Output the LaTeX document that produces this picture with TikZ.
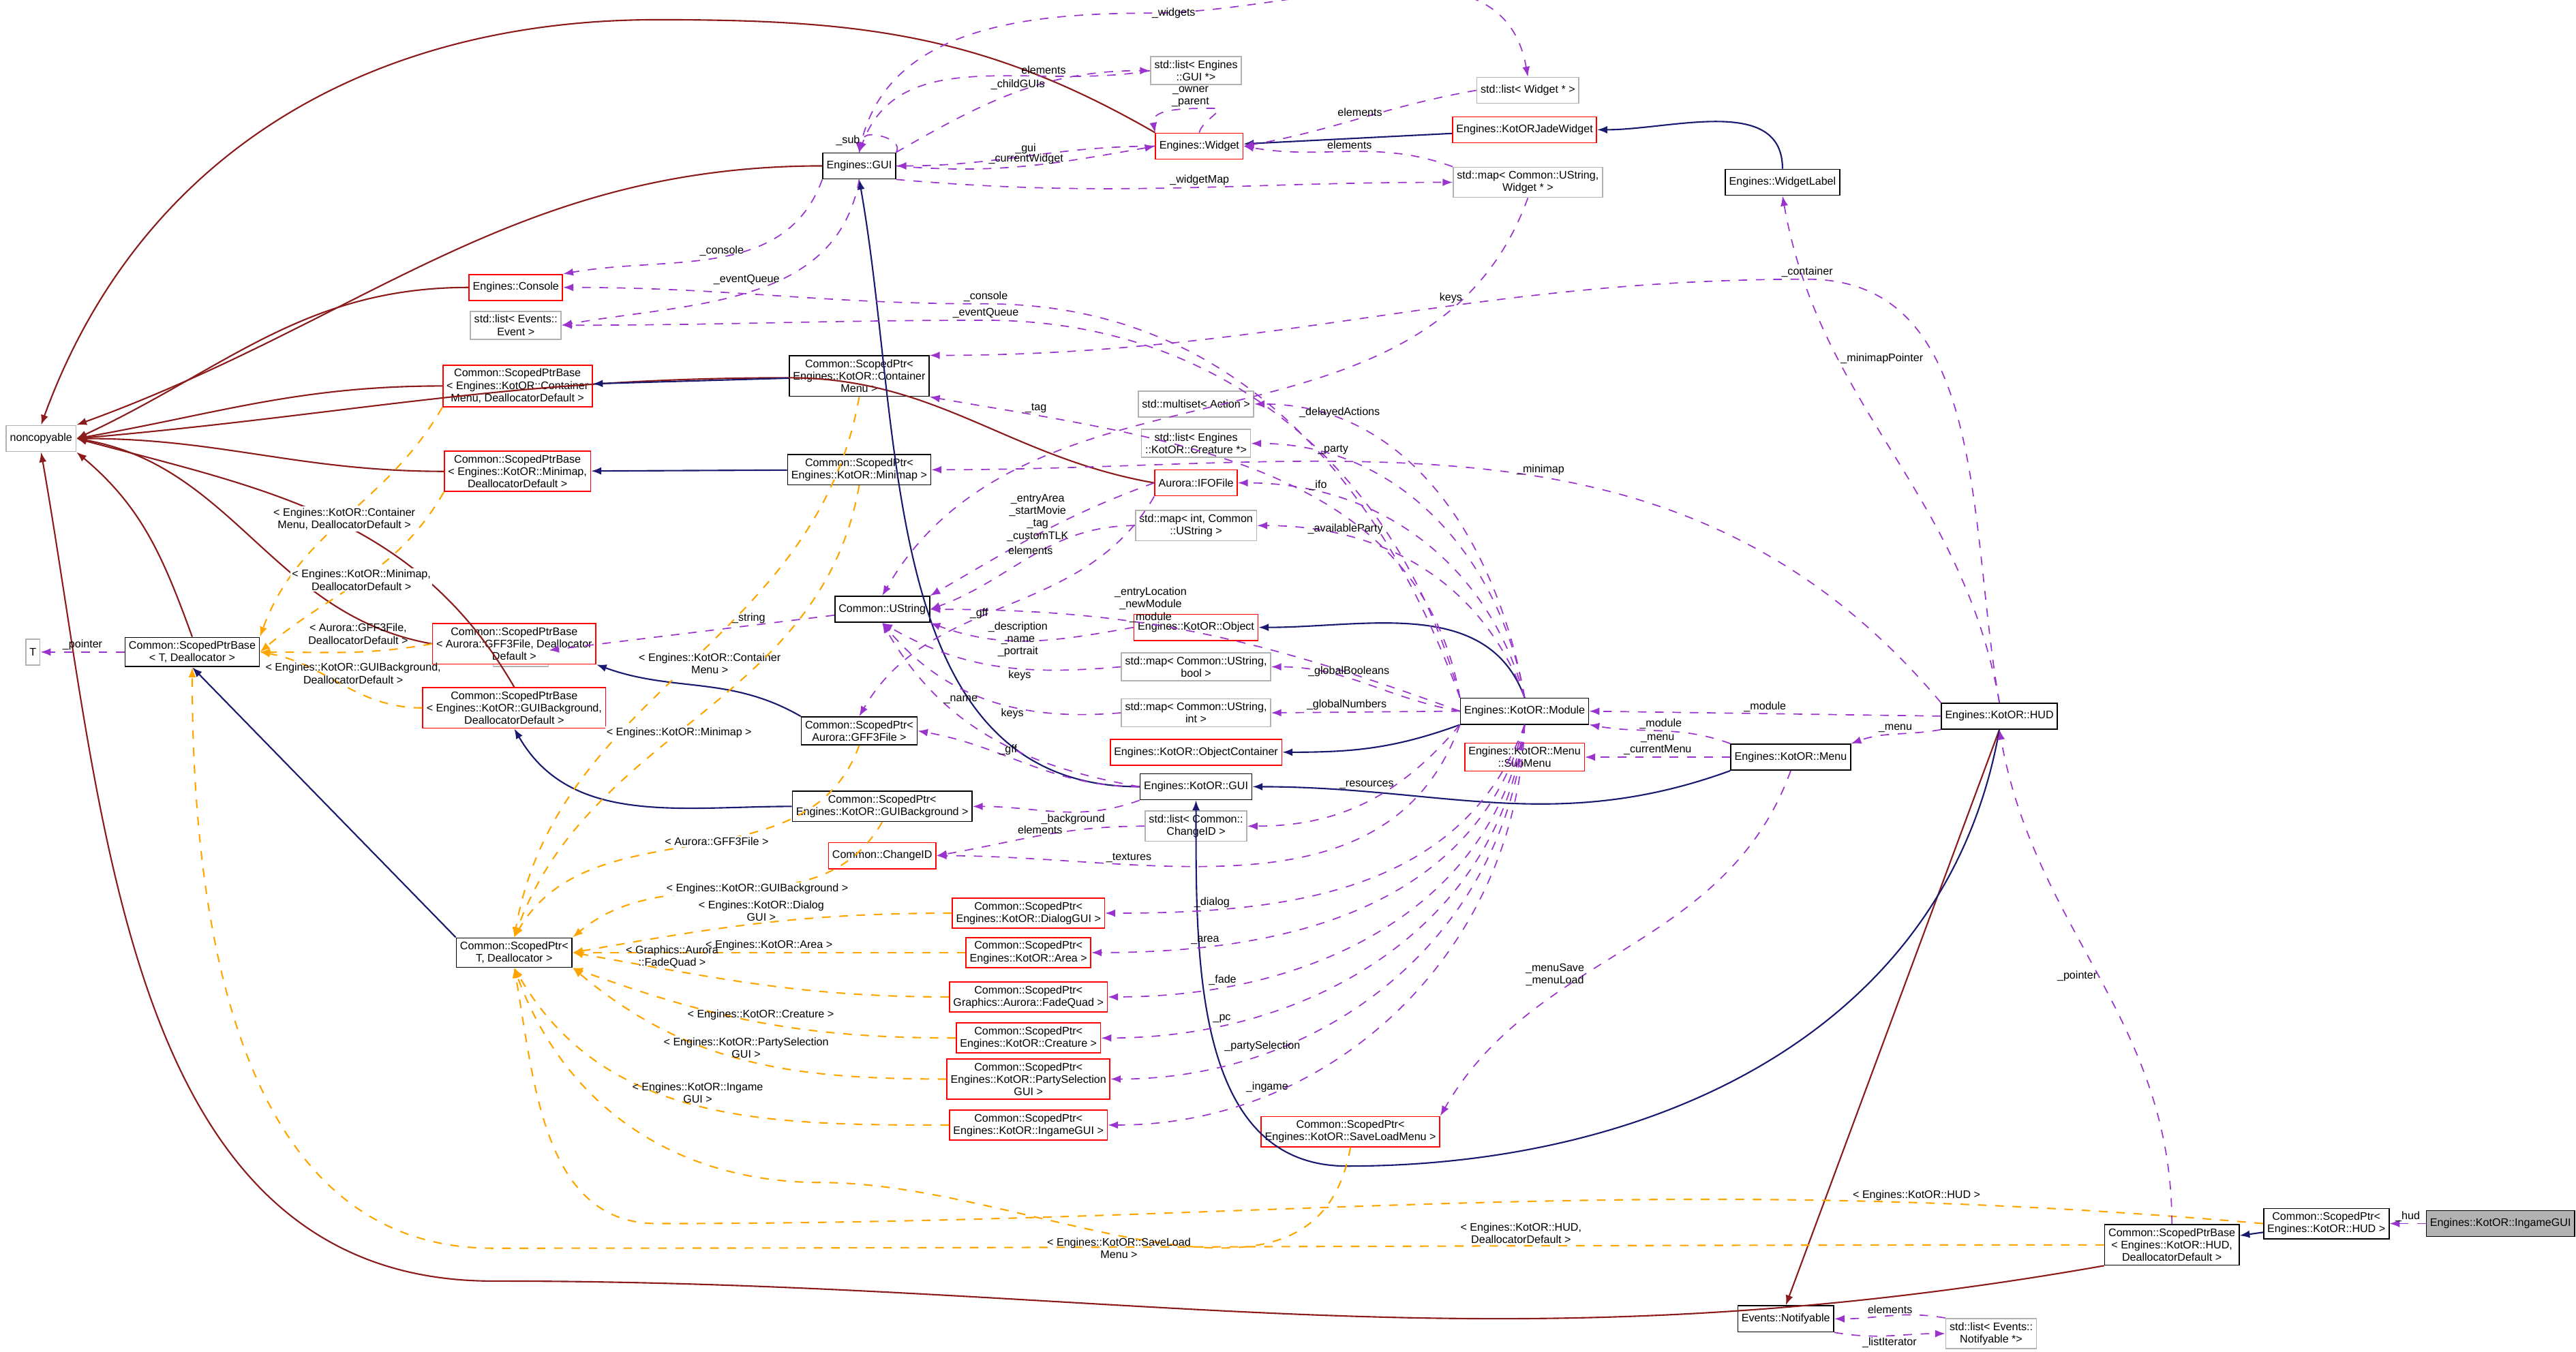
\documentclass[tikz,border=0pt]{standalone}
\usepackage{fontspec}
\setmainfont{Liberation Sans}
\usetikzlibrary{arrows.meta}
\definecolor{inhpub}{HTML}{191970}
\definecolor{inhpriv}{HTML}{8B1A1A}
\definecolor{usecol}{HTML}{9A32CD}
\definecolor{tplcol}{HTML}{FFA500}
\tikzset{
  cls/.style={draw=black, font=\fontsize{3.8}{4.3}\selectfont, inner sep=1.3pt, align=center, minimum height=9pt, fill=white},
  redcls/.style={cls, draw=red},
  graycls/.style={cls, draw=black!30},
  pub/.style={draw=inhpub, line width=0.5pt, -{Latex[length=3.5pt]}},
  priv/.style={draw=inhpriv, line width=0.5pt, -{Latex[length=3.5pt]}},
  use/.style={draw=usecol, dashed, line width=0.4pt, -{Latex[length=3.5pt]}},
  tpl/.style={draw=tplcol, dashed, line width=0.5pt, -{Latex[length=3.5pt]}},
  lbl/.style={font=\fontsize{3.8}{4.3}\selectfont, align=center, inner sep=0.5pt}
}
\begin{document}
\begin{tikzpicture}[x=0.02cm, y=-0.02cm]
\useasboundingbox (0,0) rectangle (1568,823);
% classes
\node[graycls] (nonc) at (25,267) {noncopyable};
\node[graycls] (tT) at (20,397) {T};
\node[cls] (spbT) at (117,397) {Common::ScopedPtrBase\\< T, Deallocator >};
\node[cls] (spT) at (313,580) {Common::ScopedPtr\textless\\ T, Deallocator >};
\node[graycls] (stdstr) at (317,398) {std::string};
\node[cls] (ustr) at (537,371) {Common::UString};
\node[cls] (egui) at (523,101) {Engines::GUI};
\node[redcls] (widget) at (730,89) {Engines::Widget};
\node[graycls] (lguis) at (728,43) {std::list\textless{} Engines\\::GUI *>};
\node[graycls] (lwidgets) at (930,55) {std::list\textless{} Widget * >};
\node[redcls] (jade) at (928,79) {Engines::KotORJadeWidget};
\node[graycls] (mapw) at (930,111) {std::map\textless{} Common::UString,\\ Widget * >};
\node[cls] (wlabel) at (1085,111) {Engines::WidgetLabel};
\node[redcls] (console) at (314,175) {Engines::Console};
\node[graycls] (levents) at (314,198) {std::list\textless{} Events::\\Event >};
\node[redcls] (pbCM) at (315,235) {Common::ScopedPtrBase\\\textless{} Engines::KotOR::Container\\Menu, DeallocatorDefault >};
\node[redcls] (pbMM) at (315,287) {Common::ScopedPtrBase\\\textless{} Engines::KotOR::Minimap,\\ DeallocatorDefault >};
\node[redcls] (pbGF) at (313,392) {Common::ScopedPtrBase\\\textless{} Aurora::GFF3File, Deallocator\\Default >};
\node[redcls] (pbBG) at (313,431) {Common::ScopedPtrBase\\\textless{} Engines::KotOR::GUIBackground,\\ DeallocatorDefault >};
\node[cls] (spCM) at (523,229) {Common::ScopedPtr\textless\\Engines::KotOR::Container\\Menu >};
\node[cls] (spMM) at (523,286) {Common::ScopedPtr\textless\\Engines::KotOR::Minimap >};
\node[cls] (spGF) at (523,445) {Common::ScopedPtr\textless\\Aurora::GFF3File >};
\node[cls] (spBG) at (537,491) {Common::ScopedPtr\textless\\Engines::KotOR::GUIBackground >};
\node[redcls] (changeid) at (537,521) {Common::ChangeID};
\node[graycls] (mset) at (728,246) {std::multiset\textless{} Action >};
\node[graycls] (lcre) at (728,270) {std::list\textless{} Engines\\::KotOR::Creature *>};
\node[redcls] (ifo) at (728,294) {Aurora::IFOFile};
\node[graycls] (mapint) at (728,320) {std::map\textless{} int, Common\\::UString >};
\node[redcls] (kobj) at (728,382) {Engines::KotOR::Object};
\node[graycls] (mapbool) at (728,406) {std::map\textless{} Common::UString,\\ bool >};
\node[graycls] (mapintv) at (728,434) {std::map\textless{} Common::UString,\\ int >};
\node[redcls] (kocont) at (728,458) {Engines::KotOR::ObjectContainer};
\node[cls] (kgui) at (728,479) {Engines::KotOR::GUI};
\node[graycls] (lchid) at (728,503) {std::list\textless{} Common::\\ChangeID >};
\node[redcls] (spDG) at (626,556) {Common::ScopedPtr\textless\\Engines::KotOR::DialogGUI >};
\node[redcls] (spAR) at (626,580) {Common::ScopedPtr\textless\\Engines::KotOR::Area >};
\node[redcls] (spFQ) at (626,607) {Common::ScopedPtr\textless\\Graphics::Aurora::FadeQuad >};
\node[redcls] (spCR) at (626,632) {Common::ScopedPtr\textless\\Engines::KotOR::Creature >};
\node[redcls] (spPS) at (626,657) {Common::ScopedPtr\textless\\Engines::KotOR::PartySelection\\GUI >};
\node[redcls] (spIG) at (626,685) {Common::ScopedPtr\textless\\Engines::KotOR::IngameGUI >};
\node[redcls] (spSL) at (822,689) {Common::ScopedPtr\textless\\Engines::KotOR::SaveLoadMenu >};
\node[cls] (module) at (928,433) {Engines::KotOR::Module};
\node[redcls] (submenu) at (928,461) {Engines::KotOR::Menu\\::SubMenu};
\node[cls] (menu) at (1090,461) {Engines::KotOR::Menu};
\node[cls] (hud) at (1217,436) {Engines::KotOR::HUD};
\node[cls] (spHUD) at (1416,745) {Common::ScopedPtr\textless\\Engines::KotOR::HUD >};
\node[cls] (pbHUD) at (1322,758) {Common::ScopedPtrBase\\\textless{} Engines::KotOR::HUD,\\ DeallocatorDefault >};
\node[cls, fill=black!30, draw=black] (ingame) at (1522,745) {Engines::KotOR::IngameGUI};
\node[cls] (notif) at (1087,803) {Events::Notifyable};
\node[graycls] (lnotif) at (1212,812) {std::list\textless{} Events::\\Notifyable *>};
% private inheritance
\draw[priv] (egui.west) to[out=180,in=20] (nonc.north east);
\draw[priv] (widget.north west) to[out=150,in=0] (400,12) to[out=180,in=70] (nonc.north);
\draw[priv] (console.west) to[out=180,in=25] (nonc.east);
\draw[priv] (pbCM.west) to[out=180,in=10] (nonc.east);
\draw[priv] (pbMM.west) to[out=180,in=0] (nonc.east);
\draw[priv] (pbGF.west) to[out=170,in=-10] (nonc.east);
\draw[priv] (pbBG.north) to[out=120,in=-15] (nonc.east);
\draw[priv] (spbT.north) to[out=110,in=-40] (nonc.south east);
\draw[priv] (ifo.west) to[out=170,in=0] (480,230) to[out=180,in=5] (nonc.east);
\draw[priv] (pbHUD.south west) to[out=190,in=0] (300,780) to[out=180,in=-80] (nonc.south);
\draw[priv] (hud.south) -- (notif.north);
% public inheritance
\draw[pub] (spCM) -- (pbCM);
\draw[pub] (spMM) -- (pbMM);
\draw[pub] (spGF.north west) to[out=150,in=-20] (pbGF.south east);
\draw[pub] (spBG.west) to[out=180,in=-60] (pbBG.south);
\draw[pub] (spT.north west) -- (spbT.south);
\draw[pub] (jade) -- (widget);
\draw[pub] (wlabel.north) to[out=90,in=0] (jade.east);
\draw[pub] (module.north) to[out=110,in=0] (kobj.east);
\draw[pub] (module.south west) to[out=200,in=0] (kocont.east);
\draw[pub] (kgui.west) to[out=180,in=-80] (egui.south);
\draw[pub] (menu.south west) to[out=200,in=0] (kgui.east);
\draw[pub] (hud.south) to[out=-100,in=0] (820,710) to[out=180,in=-90] (kgui.south);
\draw[pub] (spHUD) -- (pbHUD);
% template instances
\draw[tpl] (pbCM.south west) to[out=-120,in=70] node[lbl, pos=0.5, fill=white] {< Engines::KotOR::Container\\Menu, DeallocatorDefault >} (spbT.north east);
\draw[tpl] (pbMM.south west) to[out=-120,in=40] node[lbl, pos=0.5, fill=white] {< Engines::KotOR::Minimap,\\DeallocatorDefault >} (spbT.east);
\draw[tpl] (pbGF.west) to[out=190,in=0] (spbT.east);
\node[lbl] (lblGF) at (218,386) {< Aurora::GFF3File,\\DeallocatorDefault >};
\draw[tpl] (pbBG.west) to[out=180,in=-10] (spbT.east);
\node[lbl] (lblBG) at (215,410) {< Engines::KotOR::GUIBackground,\\DeallocatorDefault >};
\draw[tpl] (pbHUD.west) to[out=180,in=0] node[lbl, pos=0.35, above] {< Engines::KotOR::HUD,\\DeallocatorDefault >} (300,760) to[out=180,in=-90] (spbT.south);
\draw[tpl] (spCM.south) to[out=-100,in=80] (spT.north);
\node[lbl, fill=white] (lblCM) at (432,404) {< Engines::KotOR::Container\\Menu >};
\draw[tpl] (spMM.south) to[out=-100,in=70] node[lbl, pos=0.55, fill=white] {< Engines::KotOR::Minimap >} (spT.north);
\draw[tpl] (spGF.south) to[out=-110,in=60] node[lbl, pos=0.45, fill=white] {< Aurora::GFF3File >} (spT.north);
\draw[tpl] (spBG.south) to[out=-120,in=40] node[lbl, pos=0.45, fill=white] {< Engines::KotOR::GUIBackground >} (spT.north east);
\draw[tpl] (spDG.west) to[out=180,in=10] node[lbl, pos=0.5, above] {< Engines::KotOR::Dialog\\GUI >} (spT.east);
\draw[tpl] (spAR.west) -- node[lbl, pos=0.5, above] {< Engines::KotOR::Area >} (spT.east);
\draw[tpl] (spFQ.west) to[out=180,in=-10] node[lbl, pos=0.75, above] {< Graphics::Aurora\\::FadeQuad >} (spT.east);
\draw[tpl] (spCR.west) to[out=180,in=-20] node[lbl, pos=0.5, above] {< Engines::KotOR::Creature >} (spT.south east);
\draw[tpl] (spPS.west) to[out=180,in=-40] node[lbl, pos=0.5, above] {< Engines::KotOR::PartySelection\\GUI >} (spT.south east);
\draw[tpl] (spIG.west) to[out=180,in=-60] node[lbl, pos=0.5, above] {< Engines::KotOR::Ingame\\GUI >} (spT.south);
\draw[tpl] (spSL.south) to[out=-100,in=0] node[lbl, pos=0.55, below] {< Engines::KotOR::SaveLoad\\Menu >} (500,720) to[out=180,in=-70] (spT.south);
\draw[tpl] (spHUD.west) to[out=175,in=0] node[lbl, pos=0.2, above] {< Engines::KotOR::HUD >} (400,745) to[out=180,in=-80] (spT.south);
% usage
\draw[use] (spbT) -- node[lbl, above] {\_pointer} (tT);
\draw[use] (ustr) -- node[lbl, pos=0.3, above] {\_string} (stdstr);
\draw[use] (egui.north east) to[out=60,in=0] (530,82) to[out=180,in=90] node[lbl, left] {\_sub} (egui.north);
\draw[use] (widget.west) to[out=180,in=0] node[lbl, above] {\_gui} (egui.east);
\draw[use] (egui.east) to[out=-5,in=190] node[lbl, pos=0.5, above] {\_currentWidget} (widget.west);
\draw[use] (widget.north) to[out=80,in=0] (740,66) to[out=180,in=100] node[lbl, pos=0.3, above] {\_owner\\\_parent} (widget.north west);
\draw[use] (egui.north east) to[out=30,in=180] node[lbl, above] {\_childGUIs} (lguis.west);
\draw[use] (lguis.west) to[out=190,in=70] node[lbl, pos=0.3, above] {elements} (egui.north);
\draw[use] (egui.north) to[out=80,in=180] (700,8) node[lbl, right] {\_widgets} to[out=0,in=100] (lwidgets.north);
\draw[use] (lwidgets.west) to[out=190,in=10] node[lbl, above] {elements} (widget.east);
\draw[use] (egui.south east) to[out=-5,in=180] node[lbl, pos=0.55, above] {\_widgetMap} (mapw.west);
\draw[use] (mapw.north west) to[out=160,in=-10] node[lbl, above] {elements} (widget.east);
\draw[use] (mapw.south) to[out=-110,in=60] node[lbl, pos=0.15, left] {keys} (ustr.north);
\draw[use] (egui.south west) to[out=-110,in=10] node[lbl, pos=0.4, left] {\_console} (console.north east);
\draw[use] (egui.south) to[out=-100,in=10] node[lbl, pos=0.4, left] {\_eventQueue} (levents.east);
\draw[use] (module.north west) to[out=110,in=0] (600,185) node[lbl, above] {\_console} to[out=180,in=0] (console.east);
\draw[use] (module.north west) to[out=105,in=0] (600,195) node[lbl, above] {\_eventQueue} to[out=180,in=0] (levents.east);
\draw[use] (module.north west) to[out=100,in=-10] node[lbl, pos=0.85, above] {\_tag} (spCM.south east);
\draw[use] (module.north) to[out=100,in=0] node[lbl, pos=0.8, above] {\_delayedActions} (mset.east);
\draw[use] (module.north) to[out=100,in=0] node[lbl, pos=0.8, above] {\_party} (lcre.east);
\draw[use] (module.north) to[out=105,in=0] node[lbl, pos=0.8, above] {\_ifo} (ifo.east);
\draw[use] (module.north) to[out=110,in=0] node[lbl, pos=0.75, above] {\_availableParty} (mapint.east);
\draw[use] (module.west) to[out=160,in=0] node[lbl, pos=0.6, above] {\_entryLocation\\\_newModule\\\_module} (ustr.east);
\draw[use] (module.west) to[out=170,in=0] node[lbl, pos=0.6, above] {\_globalBooleans} (mapbool.east);
\draw[use] (module.west) -- node[lbl, pos=0.6, above] {\_globalNumbers} (mapintv.east);
\draw[use] (module.south west) to[out=-130,in=0] node[lbl, pos=0.35, left] {\_resources} (lchid.east);
\draw[use] (module.south west) to[out=-110,in=0] node[lbl, pos=0.7, above] {\_textures} (changeid.east);
\draw[use] (module.south) to[out=-110,in=0] node[lbl, pos=0.8, above] {\_dialog} (spDG.east);
\draw[use] (module.south) to[out=-105,in=0] node[lbl, pos=0.8, above] {\_area} (spAR.east);
\draw[use] (module.south) to[out=-100,in=0] node[lbl, pos=0.8, above] {\_fade} (spFQ.east);
\draw[use] (module.south) to[out=-97,in=0] node[lbl, pos=0.8, above] {\_pc} (spCR.east);
\draw[use] (module.south) to[out=-95,in=0] node[lbl, pos=0.75, above] {\_partySelection} (spPS.east);
\draw[use] (module.south) to[out=-92,in=0] node[lbl, pos=0.75, above] {\_ingame} (spIG.east);
\draw[use] (hud.west) -- node[lbl, above] {\_module} (module.east);
\draw[use] (hud.south west) to[out=190,in=20] node[lbl, above] {\_menu} (menu.north east);
\draw[use] (hud.north) to[out=100,in=-80] node[lbl, pos=0.7, right] {\_minimapPointer} (wlabel.south);
\draw[use] (hud.north) to[out=100,in=0] (1100,170) node[lbl, above] {\_container} to[out=180,in=0] (spCM.north east);
\draw[use] (hud.north west) to[out=130,in=0] node[lbl, pos=0.45, above] {\_minimap} (spMM.east);
\draw[use] (pbHUD.north) to[out=90,in=-80] node[lbl, pos=0.5, left] {\_pointer} (hud.south);
\draw[use] (ingame) -- node[lbl, above] {\_hud} (spHUD);
\draw[use] (menu.north west) to[out=160,in=-10] node[lbl, above] {\_module} (module.south east);
\draw[use] (menu.west) -- node[lbl, above] {\_menu\\\_currentMenu} (submenu.east);
\draw[use] (menu.south) to[out=-110,in=60] node[lbl, pos=0.6, left] {\_menuSave\\\_menuLoad} (spSL.north east);
\draw[use] (ifo.west) to[out=200,in=30] node[lbl, pos=0.35, left] {\_entryArea\\\_startMovie\\\_tag\\\_customTLK} (ustr.north east);
\draw[use] (ifo.south west) to[out=-120,in=60] node[lbl, pos=0.55, left] {\_gff} (spGF.north);
\draw[use] (mapint.west) to[out=180,in=20] node[lbl, above] {elements} (ustr.east);
\draw[use] (kobj.west) to[out=190,in=-20] node[lbl, pos=0.4, left] {\_description\\\_name\\\_portrait} (ustr.south east);
\draw[use] (mapbool.west) to[out=185,in=-30] node[lbl, pos=0.4, below] {keys} (ustr.south);
\draw[use] (mapintv.west) to[out=185,in=-50] node[lbl, pos=0.4, below] {keys} (ustr.south);
\draw[use] (kgui.west) to[out=170,in=-60] node[lbl, pos=0.7, right] {\_name} (ustr.south);
\draw[use] (kgui.west) to[out=180,in=-10] node[lbl, pos=0.6, above] {\_gff} (spGF.east);
\draw[use] (kgui.south west) to[out=-160,in=0] node[lbl, pos=0.4, below] {\_background} (spBG.east);
\draw[use] (lchid.west) to[out=180,in=10] node[lbl, above] {elements} (changeid.east);
\draw[use] (notif.south east) to[out=-10,in=180] node[lbl, below] {\_listIterator} (lnotif.west);
\draw[use] (lnotif.north west) to[out=170,in=0] node[lbl, above] {elements} (notif.east);
\end{tikzpicture}
\end{document}
